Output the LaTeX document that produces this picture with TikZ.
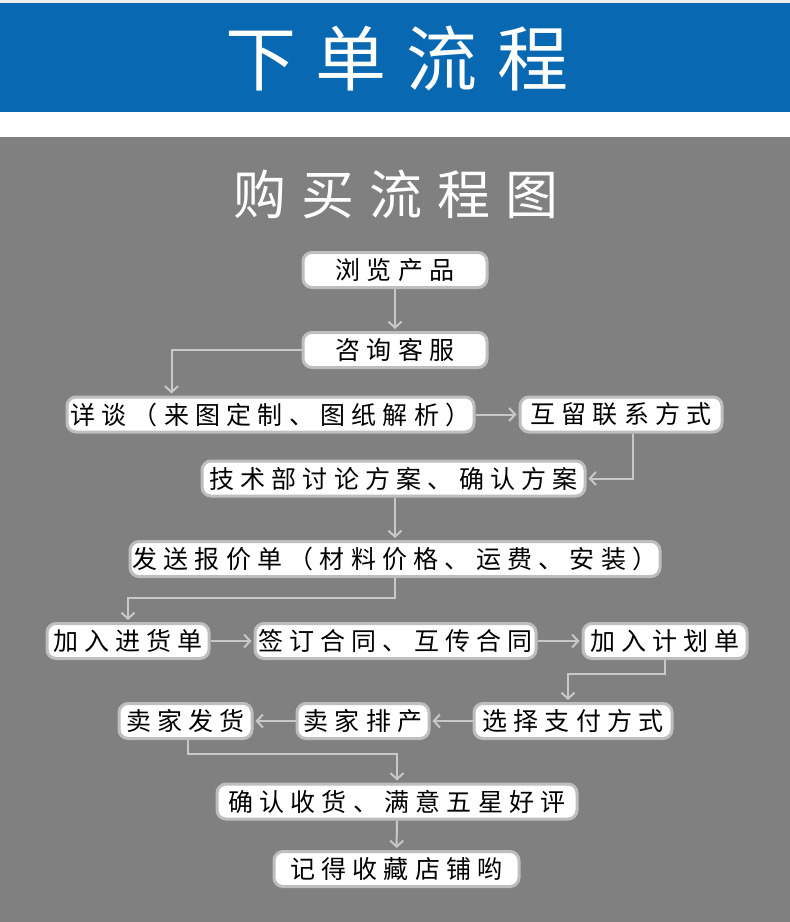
\documentclass[tikz,border=0pt]{standalone}
\usepackage{fontspec}
\usepackage{xcolor}
\usetikzlibrary{arrows.meta}
\newfontfamily\headfont[LetterSpace=28]{Noto Sans CJK SC}
\newfontfamily\boxfont[LetterSpace=25]{Noto Sans CJK SC}
\definecolor{bandblue}{RGB}{9,104,178}
\definecolor{bggray}{RGB}{128,128,128}
\definecolor{linegray}{RGB}{200,200,200}
\definecolor{rimgray}{RGB}{190,190,190}
\definecolor{stripgray}{RGB}{236,236,236}

\begin{document}
\begin{tikzpicture}[x=1pt,y=-1pt,
  stepbox/.style={draw=rimgray, line width=3pt, fill=white, rounded corners=9pt,
    minimum height=35pt, inner xsep=2pt, inner ysep=0pt, text=black,
    font=\boxfont\fontsize{25}{25}\selectfont,
    execute at begin node={\kern-3.7pt}, execute at end node={\kern-3.7pt}},
  flow/.style={draw=linegray, line width=2pt, shorten >=2pt,
    -{Straight Barb[length=6pt,width=13pt,line width=2pt]}}]
% background bands
\fill[stripgray] (0,0) rectangle (790,3);
\fill[bandblue] (0,3) rectangle (790,112);
\fill[white] (0,112) rectangle (790,137);
\fill[bggray] (0,137) rectangle (790,922);

% titles
\node[text=white, font=\headfont\fontsize{71}{71}\selectfont] (title) at (397,58) {下单流程};
\node[text=white, font=\headfont\fontsize{53}{53}\selectfont] (subtitle) at (396,194) {购买流程图};

% steps
\node[stepbox, minimum width=184pt] (b1) at (395,270) {浏览产品};
\node[stepbox, minimum width=184pt] (b2) at (395,350) {咨询客服};
\node[stepbox, minimum width=407pt] (b3) at (270.5,414.5) {详谈（来图定制、图纸解析）};
\node[stepbox, minimum width=202pt] (b4) at (621,414.5) {互留联系方式};
\node[stepbox, minimum width=383pt] (b5) at (393.5,478.5) {技术部讨论方案、确认方案};
\node[stepbox, minimum width=530pt] (b6) at (395,559) {发送报价单（材料价格、运费、安装）};
\node[stepbox, minimum width=162pt] (b7) at (128,641) {加入进货单};
\node[stepbox, minimum width=281pt] (b8) at (395.5,641) {签订合同、互传合同};
\node[stepbox, minimum width=164pt] (b9) at (665,641) {加入计划单};
\node[stepbox, minimum width=198pt] (b10) at (573,721) {选择支付方式};
\node[stepbox, minimum width=132pt] (b11) at (363,721) {卖家排产};
\node[stepbox, minimum width=133pt] (b12) at (185.5,721) {卖家发货};
\node[stepbox, minimum width=360pt] (b13) at (397,801.5) {确认收货、满意五星好评};
\node[stepbox, minimum width=245pt] (b14) at (396.5,869) {记得收藏店铺哟};

% arrows
\draw[flow] (b1) -- (b2);
\draw[flow] (b2.west) -| ([xshift=106pt]b3.north west);
\draw[flow] (b3) -- (b4);
\draw[flow] ([xshift=12pt]b4.south) |- (b5.east);
\draw[flow] (b6.north |- b5.south) -- (b6.north);
\draw[flow] (b6.south) -- ++(0,20) -| (b7.north);
\draw[flow] (b7) -- (b8);
\draw[flow] (b8) -- (b9);
\draw[flow] (b9.south) -- ++(0,14) -| ([xshift=-5pt]b10.north);
\draw[flow] (b10) -- (b11);
\draw[flow] (b11) -- (b12);
\draw[flow] ([xshift=2.5pt]b12.south) -- ++(0,14) -| (b13.north);
\draw[flow] (b13) -- (b14);
\end{tikzpicture}
\end{document}
